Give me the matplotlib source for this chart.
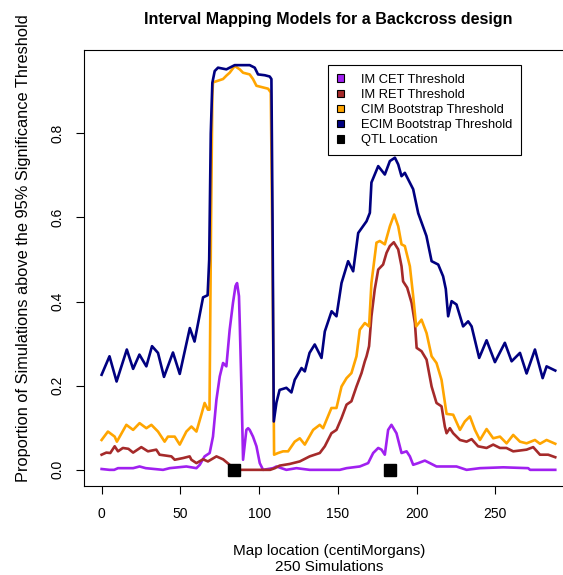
import numpy as np
import matplotlib.pyplot as plt
from matplotlib.patches import Patch

# (cM, proportion) pairs
cet = [(0, 0.002), (5, 0), (8, 0), (10.4, 0.004), (20, 0.004), (24.1, 0.008), (28, 0.004),
       (39, 0), (43.2, 0.004), (53.8, 0.008), (60.2, 0.004), (62.3, 0.012), (65.4, 0.032),
       (68.6, 0.04), (70.7, 0.079), (72.9, 0.167), (75, 0.222), (77.1, 0.254), (79.2, 0.246),
       (81.3, 0.333), (83.4, 0.397), (85, 0.437), (86, 0.444), (87.2, 0.413), (87.7, 0.349),
       (88.8, 0.19), (89.8, 0.024), (91.9, 0.095), (93, 0.099), (94, 0.095), (96.1, 0.079),
       (98.3, 0.056), (100.4, 0.016), (102.5, 0), (108.8, 0.004), (111, 0.008), (117.3, 0),
       (123.7, 0.004), (132.1, 0), (151.2, 0), (155.5, 0.004), (163.9, 0.008), (169.2, 0.016),
       (172.4, 0.04), (175.6, 0.052), (177.7, 0.048), (179.8, 0.036), (181.9, 0.095),
       (184, 0.107), (187.2, 0.087), (190.4, 0.04), (193.6, 0.044), (195.7, 0.032),
       (197.8, 0.012), (201, 0.016), (205.2, 0.022), (208.4, 0.016), (212.6, 0.008),
       (225.3, 0.008), (231.7, 0), (240.2, 0.004), (255, 0.006), (270.8, 0.004), (272, 0),
       (288, 0)]

ret = [(0, 0.036), (3, 0.041), (5.5, 0.04), (8.3, 0.056), (10.4, 0.044), (13.5, 0.052),
       (17, 0.05), (20, 0.041), (25.2, 0.054), (29.4, 0.044), (34.7, 0.048), (36.8, 0.036),
       (44.3, 0.032), (46.4, 0.024), (51.7, 0.028), (55.9, 0.032), (57, 0.024), (60.2, 0.016),
       (64.4, 0.025), (67.5, 0.02), (72.9, 0.032), (77.1, 0.025), (81.3, 0.012), (83, 0),
       (107, 0), (110, 0.004), (113, 0.01), (119.4, 0.014), (125.8, 0.02), (132.1, 0.032),
       (138.5, 0.04), (141.7, 0.056), (145.9, 0.087), (149.1, 0.095), (152.3, 0.123),
       (155.5, 0.155), (158.6, 0.163), (161.8, 0.198), (165, 0.23), (167.1, 0.258),
       (168.2, 0.27), (169.8, 0.294), (171.3, 0.365), (173.4, 0.429), (175.6, 0.476),
       (178.7, 0.488), (180.9, 0.516), (183, 0.532), (185.5, 0.541), (188.3, 0.524),
       (190.4, 0.484), (191.4, 0.448), (194, 0.433), (196.8, 0.397), (198.9, 0.349),
       (200, 0.29), (203.1, 0.282), (206.3, 0.262), (209.5, 0.198), (212.6, 0.159),
       (215.8, 0.151), (217.9, 0.103), (219, 0.087), (221.1, 0.099), (223.2, 0.087),
       (227.5, 0.071), (231.7, 0.067), (234.9, 0.073), (239, 0.056), (244.4, 0.052),
       (248.6, 0.06), (252.9, 0.052), (257, 0.052), (261.3, 0.044), (265.6, 0.046),
       (269.8, 0.048), (274, 0.054), (278.3, 0.036), (283.5, 0.036), (288, 0.03)]

cim = [(0, 0.071), (4, 0.091), (8.3, 0.079), (9.7, 0.067), (15.7, 0.107), (20, 0.095),
       (24.1, 0.111), (28.4, 0.099), (31.6, 0.107), (35.8, 0.091), (40, 0.067), (42.1, 0.079),
       (46.4, 0.079), (49.6, 0.06), (53.8, 0.091), (57, 0.103), (60.2, 0.091), (63.3, 0.131),
       (65.4, 0.159), (67.5, 0.143), (68.5, 0.143), (69.5, 0.6), (70.3, 0.89), (70.7, 0.921),
       (73.9, 0.925), (77.1, 0.929), (79.2, 0.937), (81.3, 0.944), (84.5, 0.96), (87.7, 0.952),
       (89.8, 0.944), (94, 0.94), (96.1, 0.929), (98.3, 0.913), (102.5, 0.909), (105.7, 0.906),
       (107.4, 0.897), (108.5, 0.5), (109.5, 0.036), (112, 0.04), (115.2, 0.044),
       (118.4, 0.044), (122.6, 0.067), (125.8, 0.075), (129, 0.06), (134.3, 0.095),
       (138.5, 0.107), (140.6, 0.099), (145.9, 0.147), (149.1, 0.147), (152.3, 0.198),
       (155.5, 0.218), (158.6, 0.23), (161.8, 0.27), (163.9, 0.333), (167.1, 0.349),
       (169.8, 0.341), (171.3, 0.444), (174.5, 0.54), (176.6, 0.544), (179.8, 0.536),
       (183, 0.579), (185.7, 0.607), (188.3, 0.579), (190.4, 0.536), (192.5, 0.532),
       (195.7, 0.484), (197.8, 0.413), (199.7, 0.341), (203.1, 0.357), (206.3, 0.325),
       (209.5, 0.27), (212.6, 0.254), (215.8, 0.214), (219, 0.133), (223.2, 0.131),
       (227.5, 0.095), (230.6, 0.115), (233.8, 0.127), (237, 0.095), (240.2, 0.071),
       (244.4, 0.097), (248.6, 0.075), (252.9, 0.079), (257.1, 0.063), (261.3, 0.083),
       (265.6, 0.067), (269.8, 0.063), (275.1, 0.071), (278.3, 0.062), (282.5, 0.071),
       (288, 0.062)]

ecim = [(0, 0.226), (5, 0.27), (9.5, 0.21), (16, 0.286), (20, 0.24), (24, 0.274),
        (28.4, 0.246), (32, 0.294), (35.8, 0.278), (39.6, 0.221), (45.3, 0.279), (49.6, 0.228),
        (56, 0.337), (59, 0.305), (64.4, 0.41), (67.3, 0.415), (68.3, 0.5), (69.3, 0.8),
        (70.3, 0.92), (71.8, 0.948), (73.9, 0.956), (79.2, 0.952), (84.5, 0.962), (94, 0.962),
        (97.2, 0.956), (99.3, 0.94), (103.6, 0.938), (106.7, 0.935), (107.8, 0.929),
        (108.5, 0.6), (109.3, 0.115), (111, 0.16), (113, 0.19), (117.3, 0.195), (120.5, 0.184),
        (122.6, 0.214), (126.9, 0.242), (129, 0.234), (132, 0.278), (135.3, 0.298),
        (139.6, 0.266), (141.7, 0.329), (146, 0.377), (149.1, 0.365), (152.3, 0.444),
        (156.5, 0.496), (159.7, 0.472), (162.9, 0.563), (168.2, 0.591), (170.3, 0.611),
        (171.3, 0.683), (175.6, 0.722), (179.8, 0.702), (183, 0.734), (186.2, 0.742),
        (188.3, 0.726), (190.4, 0.698), (192.5, 0.706), (197.8, 0.667), (201, 0.61),
        (206.2, 0.556), (209.5, 0.496), (213.7, 0.488), (216.8, 0.46), (218.5, 0.43),
        (220, 0.365), (222.2, 0.401), (225.3, 0.393), (229.5, 0.341), (232.7, 0.353),
        (234.9, 0.341), (239.7, 0.266), (244.4, 0.308), (249.7, 0.256), (256, 0.302),
        (260.3, 0.258), (265.6, 0.278), (269.8, 0.229), (275.1, 0.286), (280, 0.218),
        (282.5, 0.246), (288, 0.236)]

qtl_cm = [84, 183]
qtl_prop = [0, 0]

series = [("IM CET Threshold", cet, "#A020F0"),
          ("IM RET Threshold", ret, "#A52A2A"),
          ("CIM Bootstrap Threshold", cim, "#FFA500"),
          ("ECIM Bootstrap Threshold", ecim, "#000080")]

plt.rcParams['font.family'] = ['Liberation Sans', 'DejaVu Sans']

fig = plt.figure(figsize=(5.63, 5.75), dpi=100)
ax = fig.add_axes([83.5 / 563, 1 - 486 / 575, (574 - 83.5) / 563, 436 / 575])

for name, pts, col in series:
    arr = np.array(pts).T
    ax.plot(arr[0], arr[1], color=col, lw=1.9, solid_joinstyle='round')

ax.plot(qtl_cm, qtl_prop, 's', color='black', ms=8.5, zorder=5)

ax.set_xlim(-11.5, 299.9)
ax.set_ylim(-0.0384, 0.998)
ax.set_xticks([0, 50, 100, 150, 200, 250])
ax.set_yticks([0.0, 0.2, 0.4, 0.6, 0.8])
ax.set_yticklabels(["0.0", "0.2", "0.4", "0.6", "0.8"], rotation=90, va='center')
ax.tick_params(length=5.5, width=0.8, labelsize=10)
ax.tick_params(axis='x', pad=9.5)
ax.tick_params(axis='y', pad=8)
for s in ax.spines.values():
    s.set_linewidth(0.8)

ax.set_title("Interval Mapping Models for a Backcross design", fontsize=11.5,
             fontweight='bold', pad=19)
ax.set_xlabel("Map location (centiMorgans)\n250 Simulations", fontsize=11,
              labelpad=17, linespacing=1.1)
ax.set_ylabel("Proportion of Simulations above the 95% Significance Threshold",
              fontsize=11.8)
ax.yaxis.set_label_coords(-0.108, 0.546)

handles = [Patch(facecolor=c, edgecolor='black', lw=0.8) for _, _, c in series]
handles.append(Patch(facecolor='black', edgecolor='black', lw=0.8))
labels = [n for n, _, _ in series] + ["QTL Location"]
leg = ax.legend(handles, labels, loc='upper left', bbox_to_anchor=(0.4985, 0.966),
                borderaxespad=0, fontsize=9.3, handlelength=0.55, handleheight=0.55,
                handletextpad=1.3, labelspacing=0.24, borderpad=0.7, fancybox=False,
                edgecolor='black', framealpha=1)
leg.get_frame().set_linewidth(0.8)

fig.savefig("out.png", dpi=100)
